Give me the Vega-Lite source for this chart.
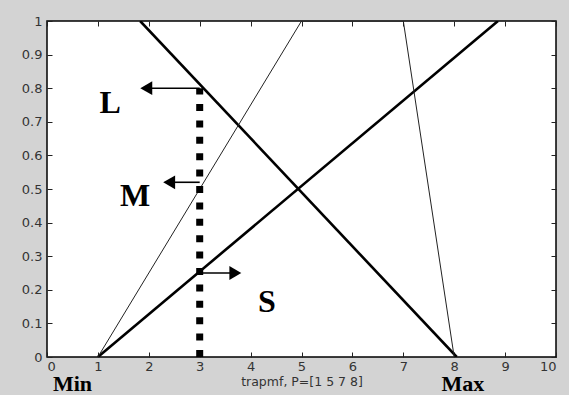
{
  "$schema": "https://vega.github.io/schema/vega-lite/v6.json",
  "width": 509,
  "height": 336,
  "autosize": "none",
  "padding": {"left": 47, "top": 21, "right": 13, "bottom": 38},
  "background": "#d3d3d3",
  "config": {
    "view": {"fill": "white", "stroke": "black", "strokeWidth": 1.5},
    "axis": {
      "grid": false, "domain": false, "tickColor": "#222", "tickSize": -5, "tickWidth": 1,
      "labelFont": "DejaVu Sans", "labelFontSize": 13, "labelColor": "#333",
      "titleFont": "DejaVu Sans", "titleFontWeight": "normal", "titleFontSize": 12.5, "titleColor": "#333"
    }
  },
  "datasets": {
    "curves": [
      {"curve": "S", "x": 1, "y": 0},
      {"curve": "S", "x": 8.86, "y": 1},
      {"curve": "L", "x": 1.83, "y": 1},
      {"curve": "L", "x": 8.05, "y": 0},
      {"curve": "M", "x": 1, "y": 0},
      {"curve": "M", "x": 5, "y": 1},
      {"curve": "M", "x": 7, "y": 1},
      {"curve": "M", "x": 8, "y": 0}
    ],
    "arrows": [
      {"label": "L", "x": 3, "x2": 1.95, "y": 0.8, "dir": "left"},
      {"label": "M", "x": 3, "x2": 2.4, "y": 0.52, "dir": "left"},
      {"label": "S", "x": 3, "x2": 3.7, "y": 0.25, "dir": "right"}
    ],
    "labels": [
      {"text": "L", "x": 1.24, "y": 0.755},
      {"text": "M", "x": 1.73, "y": 0.48},
      {"text": "S", "x": 4.32, "y": 0.165}
    ],
    "bottom": [
      {"text": "Min", "x": 0.5, "y": -0.079},
      {"text": "Max", "x": 8.17, "y": -0.079}
    ]
  },
  "resolve": {"axis": {"x": "independent", "y": "independent"}},
  "layer": [
    {
      "data": {"name": "curves"},
      "transform": [{"filter": "datum.curve !== 'M'"}],
      "mark": {"type": "line", "color": "black", "strokeWidth": 2.6, "clip": true},
      "encoding": {
        "x": {"field": "x", "type": "quantitative", "scale": {"domain": [0, 10], "nice": false},
              "axis": {"values": [0,1,2,3,4,5,6,7,8,9,10], "title": "trapmf, P=[1 5 7 8]", "labelPadding": 8, "titlePadding": 2}},
        "y": {"field": "y", "type": "quantitative", "scale": {"domain": [0, 1], "nice": false},
              "axis": {"values": [0,0.1,0.2,0.3,0.4,0.5,0.6,0.7,0.8,0.9,1], "format": ".1~f", "title": null, "labelPadding": 10}},
        "detail": {"field": "curve"}
      }
    },
    {
      "data": {"name": "curves"},
      "transform": [{"filter": "datum.curve === 'M'"}],
      "mark": {"type": "line", "color": "#222", "strokeWidth": 1, "clip": true},
      "encoding": {
        "x": {"field": "x", "type": "quantitative", "axis": {"orient": "top", "labels": false, "title": null, "values": [0,1,2,3,4,5,6,7,8,9,10]}},
        "y": {"field": "y", "type": "quantitative", "axis": {"orient": "right", "labels": false, "title": null, "values": [0,0.1,0.2,0.3,0.4,0.5,0.6,0.7,0.8,0.9,1]}}
      }
    },
    {
      "data": {"values": [{"x": 3, "y": 0, "y2": 0.8}]},
      "mark": {"type": "rule", "color": "black", "strokeWidth": 7, "strokeDash": [7, 9.4], "strokeCap": "butt"},
      "encoding": {
        "x": {"field": "x", "type": "quantitative", "axis": null},
        "y": {"field": "y", "type": "quantitative", "axis": null},
        "y2": {"field": "y2"}
      }
    },
    {
      "data": {"name": "arrows"},
      "mark": {"type": "rule", "color": "black", "strokeWidth": 1.6},
      "encoding": {
        "x": {"field": "x", "type": "quantitative", "axis": null},
        "x2": {"field": "x2"},
        "y": {"field": "y", "type": "quantitative", "axis": null}
      }
    },
    {
      "data": {"name": "arrows"},
      "mark": {"type": "point", "filled": true, "color": "black", "opacity": 1, "size": 190},
      "encoding": {
        "x": {"field": "x2", "type": "quantitative", "axis": null},
        "y": {"field": "y", "type": "quantitative", "axis": null},
        "shape": {"field": "dir", "type": "nominal", "scale": {"domain": ["left", "right"], "range": ["triangle-left", "triangle-right"]}, "legend": null}
      }
    },
    {
      "data": {"name": "labels"},
      "mark": {"type": "text", "font": "Liberation Serif", "fontWeight": "bold", "fontSize": 32, "color": "black", "baseline": "middle", "align": "center"},
      "encoding": {
        "x": {"field": "x", "type": "quantitative", "axis": null},
        "y": {"field": "y", "type": "quantitative", "axis": null},
        "text": {"field": "text"}
      }
    },
    {
      "data": {"name": "bottom"},
      "mark": {"type": "text", "font": "Liberation Serif", "fontWeight": "bold", "fontSize": 22, "color": "black", "baseline": "middle", "align": "center", "clip": false},
      "encoding": {
        "x": {"field": "x", "type": "quantitative", "axis": null},
        "y": {"field": "y", "type": "quantitative", "axis": null},
        "text": {"field": "text"}
      }
    }
  ]
}
